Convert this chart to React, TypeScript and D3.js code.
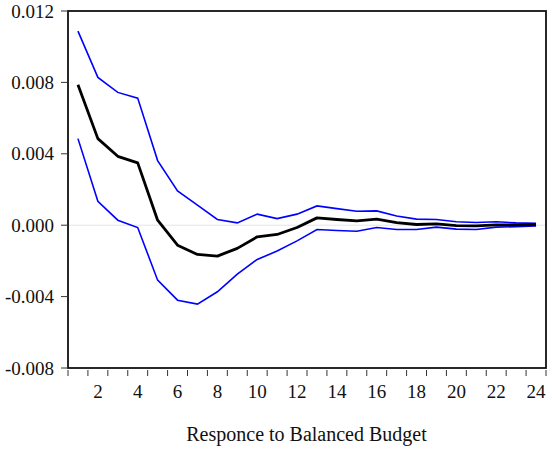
import { useEffect, useRef } from 'react';
import * as d3 from 'd3';

// impulse response periods
const periods: number[] = d3.range(1, 25);

// point response (black)
const response: number[] = [
  0.00787, 0.00485, 0.00386, 0.00349, 0.00028, -0.00112, -0.00164, -0.00173,
  -0.0013, -0.00065, -0.00052, -0.00013, 0.00041, 0.00032, 0.00024, 0.00034,
  0.00015, 0.00004, 0.00007, -0.00002, -0.00004, 0.00002, 0.00002, 0.00003,
];

// upper band (blue)
const upper: number[] = [
  0.01087, 0.00828, 0.00744, 0.00712, 0.00362, 0.00192, 0.00112, 0.00032,
  0.00013, 0.00062, 0.00037, 0.00062, 0.00108, 0.00093, 0.00078, 0.0008,
  0.00052, 0.00034, 0.00032, 0.00019, 0.00015, 0.00019, 0.00013, 0.00011,
];

// lower band (blue)
const lower: number[] = [
  0.00485, 0.00134, 0.00028, -0.00013, -0.00308, -0.0042, -0.00442, -0.00373,
  -0.00274, -0.00192, -0.00145, -0.00088, -0.00024, -0.0003, -0.00034, -0.00013,
  -0.00024, -0.00024, -0.00011, -0.00022, -0.00024, -0.00011, -0.00008, -0.00004,
];

const yTicks: number[] = [-0.008, -0.004, 0, 0.004, 0.008, 0.012];
const xTickLabels: number[] = [2, 4, 6, 8, 10, 12, 14, 16, 18, 20, 22, 24];
const xTitle = 'Responce to Balanced Budget';

const App = () => {
  const svgRef = useRef<SVGSVGElement>(null);

  useEffect(() => {
    if (!svgRef.current) return;
    const svg = d3.select(svgRef.current);
    svg.selectAll('*').remove();

    const left = 68;
    const right = 546;
    const top = 11;
    const bottom = 368;
    const font = 'Liberation Serif, Times New Roman, serif';

    const x = d3.scaleLinear().domain([0.5, 24.5]).range([left, right]);
    const y = d3.scaleLinear().domain([-0.008, 0.012]).range([bottom, top]);

    // zero reference line
    svg
      .append('line')
      .attr('x1', left)
      .attr('x2', right)
      .attr('y1', y(0))
      .attr('y2', y(0))
      .attr('stroke', '#e4e4e4')
      .attr('stroke-width', 1);

    const line = (vals: number[]) =>
      d3
        .line<number>()
        .x((_, i) => x(periods[i]))
        .y((d) => y(d))(vals);

    svg
      .append('path')
      .attr('d', line(upper))
      .attr('fill', 'none')
      .attr('stroke', '#0000ff')
      .attr('stroke-width', 1.6);

    svg
      .append('path')
      .attr('d', line(lower))
      .attr('fill', 'none')
      .attr('stroke', '#0000ff')
      .attr('stroke-width', 1.6);

    svg
      .append('path')
      .attr('d', line(response))
      .attr('fill', 'none')
      .attr('stroke', '#000')
      .attr('stroke-width', 2.8)
      .attr('stroke-linejoin', 'round');

    // frame
    svg
      .append('rect')
      .attr('x', left)
      .attr('y', top)
      .attr('width', right - left)
      .attr('height', bottom - top)
      .attr('fill', 'none')
      .attr('stroke', '#111')
      .attr('stroke-width', 1.8);

    // y axis
    const yAxis = svg.append('g');
    yAxis
      .selectAll('line')
      .data(yTicks)
      .enter()
      .append('line')
      .attr('x1', left - 7)
      .attr('x2', left)
      .attr('y1', (d) => y(d))
      .attr('y2', (d) => y(d))
      .attr('stroke', '#333')
      .attr('stroke-width', 1);
    yAxis
      .selectAll('text')
      .data(yTicks)
      .enter()
      .append('text')
      .attr('x', left - 14)
      .attr('y', (d) => y(d))
      .attr('dy', '0.35em')
      .attr('text-anchor', 'end')
      .attr('font-family', font)
      .attr('font-size', 19)
      .attr('fill', '#111')
      .text((d) => d3.format('.3f')(d).replace('−', '-'));

    // x axis: ticks between observations
    const xAxis = svg.append('g');
    xAxis
      .selectAll('line')
      .data(d3.range(0.5, 25, 1))
      .enter()
      .append('line')
      .attr('x1', (d) => x(d))
      .attr('x2', (d) => x(d))
      .attr('y1', bottom + 2)
      .attr('y2', bottom + 8)
      .attr('stroke', '#333')
      .attr('stroke-width', 1);
    xAxis
      .selectAll('text')
      .data(xTickLabels)
      .enter()
      .append('text')
      .attr('x', (d) => x(d))
      .attr('y', 398)
      .attr('text-anchor', 'middle')
      .attr('font-family', font)
      .attr('font-size', 19)
      .attr('fill', '#111')
      .text((d) => d);

    svg
      .append('text')
      .attr('x', 306.5)
      .attr('y', 441)
      .attr('text-anchor', 'middle')
      .attr('font-family', font)
      .attr('font-size', 20)
      .attr('fill', '#111')
      .text(xTitle);
  }, []);

  return (
    <svg
      ref={svgRef}
      width={550}
      height={449}
      style={{ position: 'absolute', left: 0, top: 0, background: '#fff' }}
    ></svg>
  );
};

export default App;
